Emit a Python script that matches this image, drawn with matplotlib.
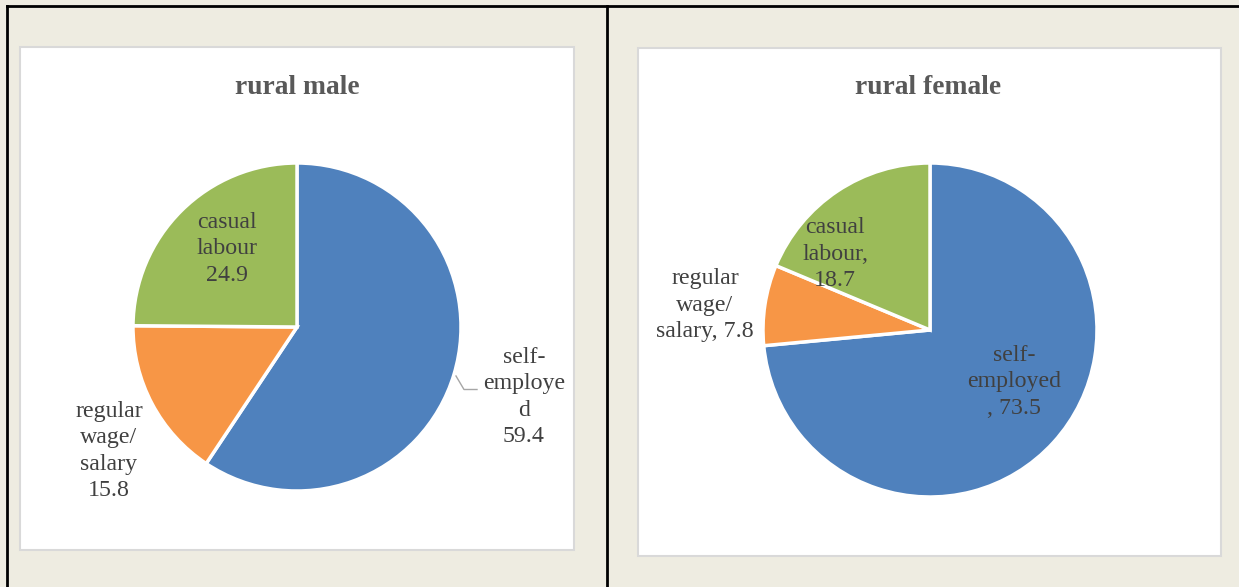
import matplotlib.pyplot as plt
from matplotlib.patches import Rectangle

plt.rcParams['font.family'] = ['Liberation Serif', 'DejaVu Serif']

# data
categories = ['self-employed', 'regular wage/salary', 'casual labour']
male_values = [59.4, 15.8, 24.9]
female_values = [73.5, 7.8, 18.7]
male_labels = ['self-\nemploye\nd\n59.4', 'regular\nwage/\nsalary\n15.8', 'casual\nlabour\n24.9']
female_labels = ['self-\nemployed\n, 73.5', 'regular\nwage/\nsalary, 7.8', 'casual\nlabour,\n18.7']
titles = ['rural male', 'rural female']
colors = ['#4F81BD', '#F79646', '#9BBB59']

W, H = 1239, 587
fig = plt.figure(figsize=(W / 100, H / 100), dpi=100)
fig.patch.set_facecolor('#EEECE1')
ax = fig.add_axes([0, 0, 1, 1])


def Y(y):
    # top-down pixel -> axis coords
    return H - y


# white chart panels
for (x0, y0, x1, y1) in [(20, 47, 574, 550), (638, 48, 1221, 556)]:
    ax.add_patch(Rectangle((x0, Y(y1)), x1 - x0, y1 - y0, facecolor='white',
                           edgecolor='#D9D9D9', linewidth=1.5, zorder=1))

# table borders
ax.plot([7, W], [Y(6), Y(6)], color='black', lw=2, zorder=5)
ax.plot([7, 7], [Y(6), 0], color='black', lw=2, zorder=5)
ax.plot([606.5, 606.5], [Y(6), 0], color='black', lw=2, zorder=5)

panels = [
    dict(values=male_values, labels=male_labels, title=titles[0], c=(297, 327), r=164,
         tx=297, lab=[(524, 397), (109, 451), (227, 249)]),
    dict(values=female_values, labels=female_labels, title=titles[1], c=(930, 330), r=167,
         tx=928, lab=[(1014, 382), (705, 305), (835, 254)]),
]

for p in panels:
    ax.pie(p['values'], colors=colors, startangle=90, counterclock=False,
           center=(p['c'][0], Y(p['c'][1])), radius=p['r'], frame=True,
           wedgeprops=dict(edgecolor='white', linewidth=2.5, zorder=2))
    ax.text(p['tx'], Y(87), p['title'], ha='center', va='center', fontsize=19.8,
            fontweight='bold', color='#595959', zorder=4)
    for (lx, ly), txt in zip(p['lab'], p['labels']):
        ax.text(lx, Y(ly), txt, ha='center', va='center', multialignment='center',
                fontsize=17.2, color='#404040', linespacing=1.33, zorder=4)

# leader line for the self-employed label (rural male)
ax.plot([456, 464, 477], [Y(376), Y(389.5), Y(389.5)], color='#A6A6A6', lw=1, zorder=3)

ax.set_xlim(0, W)
ax.set_ylim(0, H)
ax.set_aspect('auto')
ax.set_axis_off()

fig.savefig('out.png', dpi=100, facecolor=fig.get_facecolor())
